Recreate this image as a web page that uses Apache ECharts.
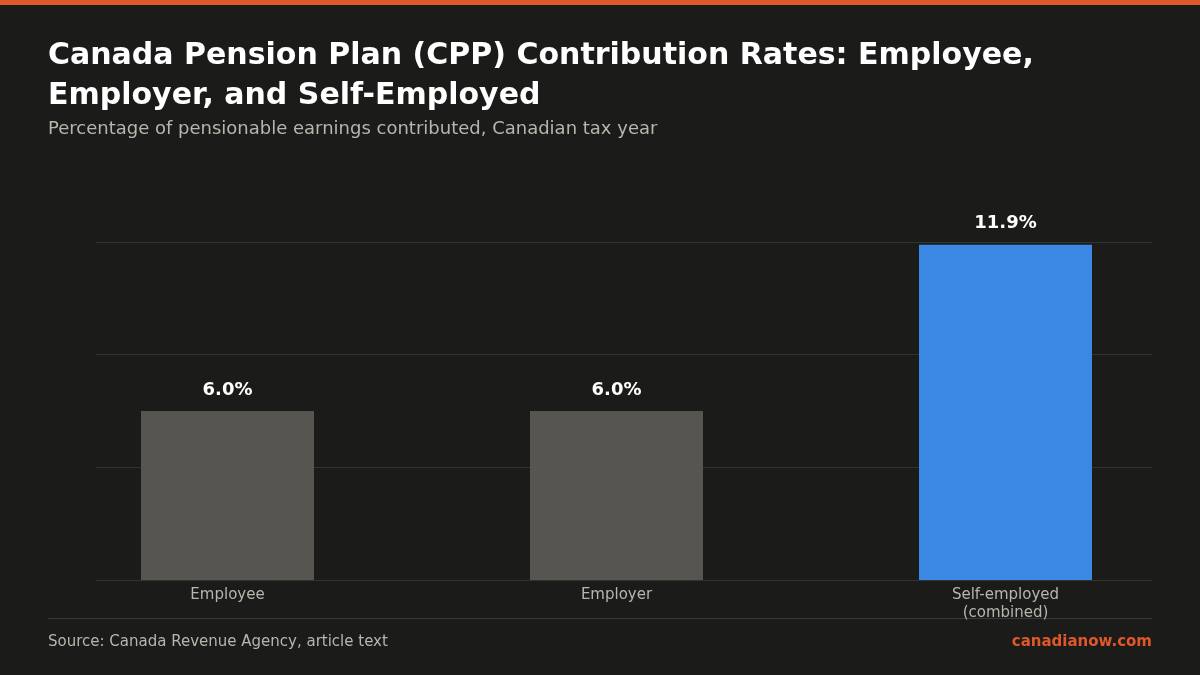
<!DOCTYPE html>
<html>
<head>
<meta charset="utf-8">
<script src="https://cdn.jsdelivr.net/npm/echarts@6/dist/echarts.min.js"></script>
<style>
  html, body { margin: 0; padding: 0; background: #1b1b1a; }
  #chart { width: 1200px; height: 675px; }
</style>
</head>
<body>
<div id="chart"></div>
<script>
// data
const categories = ['Employee', 'Employer', 'Self-employed\n(combined)'];
const rates = [6.0, 6.0, 11.9];
const barColors = ['#56554f', '#56554f', '#3a88e4'];

const FONT = 'DejaVu Sans';
const chart = echarts.init(document.getElementById('chart'));
chart.setOption({
  backgroundColor: '#1b1b1a',
  textStyle: { fontFamily: FONT },
  title: [{
    text: 'Canada Pension Plan (CPP) Contribution Rates: Employee,\nEmployer, and Self-Employed',
    left: 48, top: 36, padding: 0,
    textStyle: { color: '#ffffff', fontSize: 30, fontWeight: 'bold', lineHeight: 40, fontFamily: FONT },
    subtext: 'Percentage of pensionable earnings contributed, Canadian tax year',
    subtextStyle: { color: '#b8b5ac', fontSize: 18, fontFamily: FONT },
    itemGap: 4
  }, {
    text: 'Source: Canada Revenue Agency, article text',
    left: 48, top: 635, padding: 0,
    textStyle: { color: '#b8b5ac', fontSize: 15, fontWeight: 'normal', fontFamily: FONT }
  }, {
    text: 'canadianow.com',
    right: 48, top: 635, padding: 0,
    textStyle: { color: '#e0582a', fontSize: 15, fontWeight: 'bold', fontFamily: FONT }
  }],
  graphic: [
    { type: 'rect', shape: { x: 0, y: 0, width: 1200, height: 5 }, style: { fill: '#e0582a' } },
    { type: 'line', shape: { x1: 48, y1: 618.5, x2: 1152, y2: 618.5 }, style: { stroke: '#3a3a38', lineWidth: 1 } }
  ],
  grid: [
    { left: 96, right: 48, top: 242, bottom: 95 },
    { left: 33, width: 1182, top: 242, bottom: 95 }
  ],
  xAxis: [{
    type: 'category', gridIndex: 0, data: categories,
    axisLine: { show: true, lineStyle: { color: '#333331' } },
    axisTick: { show: false }, axisLabel: { show: false }
  }, {
    type: 'category', gridIndex: 1, data: categories,
    axisLine: { show: false }, axisTick: { show: false },
    axisLabel: { color: '#b8b5ac', fontSize: 15, margin: 6, lineHeight: 18, fontFamily: FONT }
  }],
  yAxis: [{
    type: 'value', gridIndex: 0, min: 0, max: 12, interval: 4,
    axisLabel: { show: false }, axisLine: { show: false },
    splitLine: { lineStyle: { color: '#333331' } }
  }, {
    type: 'value', gridIndex: 1, min: 0, max: 12, interval: 4,
    axisLabel: { show: false }, axisLine: { show: false }, splitLine: { show: false }
  }],
  series: [{
    type: 'bar', xAxisIndex: 1, yAxisIndex: 1,
    barWidth: 173,
    data: rates.map((v, i) => ({ value: v, itemStyle: { color: barColors[i] } })),
    label: {
      show: true, position: 'top', distance: 12,
      color: '#ffffff', fontSize: 18, fontWeight: 'bold', fontFamily: FONT,
      formatter: p => p.value.toFixed(1) + '%'
    }
  }]
});
</script>
</body>
</html>
